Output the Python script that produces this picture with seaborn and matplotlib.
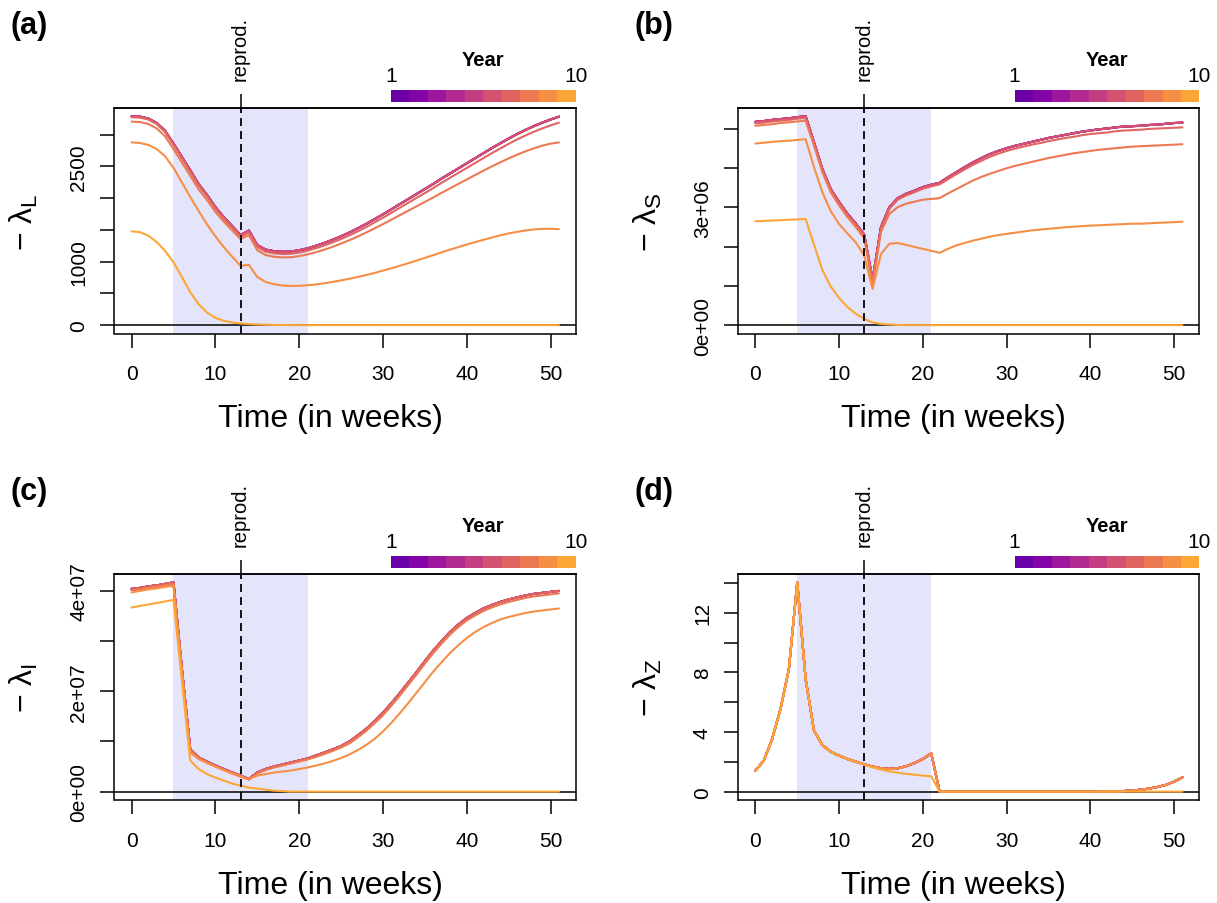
import numpy as np
import pandas as pd
import matplotlib
matplotlib.use("Agg")
import matplotlib.pyplot as plt
from matplotlib.colors import ListedColormap
import seaborn as sns

weeks = list(range(52))
years = list(range(1, 11))
repro_week = 13
season_start, season_end = 5, 21

# (a) -lambda_L ; years 1-6 lie on top of each other
lamL_y1to6 = [3290, 3285, 3255, 3185, 3060, 2860, 2650, 2440, 2220, 2050, 1860, 1700, 1560, 1420, 1490, 1260,
              1190, 1165, 1155, 1160, 1180, 1210, 1250, 1295, 1345, 1400, 1460, 1525, 1595, 1670, 1745, 1825,
              1905, 1985, 2065, 2145, 2225, 2310, 2390, 2470, 2550, 2630, 2710, 2790, 2865, 2940, 3010, 3075,
              3135, 3190, 3240, 3285]
lamL_y7 = [3275, 3270, 3240, 3170, 3043, 2843, 2632, 2422, 2200, 2030, 1838, 1678, 1536, 1393, 1462, 1230,
           1158, 1132, 1120, 1125, 1144, 1173, 1212, 1255, 1304, 1357, 1415, 1478, 1546, 1619, 1692, 1770,
           1848, 1926, 2004, 2082, 2160, 2243, 2321, 2399, 2477, 2555, 2633, 2711, 2784, 2857, 2925, 2988,
           3046, 3099, 3147, 3190]
lamL_y8 = [3207, 3200, 3170, 3100, 2975, 2775, 2565, 2355, 2140, 1970, 1785, 1630, 1492, 1356, 1420, 1180,
           1105, 1078, 1067, 1070, 1088, 1115, 1150, 1190, 1235, 1285, 1340, 1398, 1460, 1525, 1592, 1662,
           1732, 1802, 1872, 1942, 2012, 2085, 2155, 2225, 2295, 2365, 2435, 2502, 2565, 2628, 2685, 2738,
           2786, 2828, 2860, 2880]
lamL_y9 = [2880, 2870, 2840, 2775, 2660, 2480, 2250, 2020, 1800, 1590, 1400, 1230, 1080, 936, 950, 760,
           680, 645, 625, 618, 620, 628, 642, 660, 682, 705, 732, 760, 790, 822, 860, 895,
           935, 975, 1018, 1060, 1103, 1147, 1190, 1230, 1270, 1308, 1345, 1381, 1415, 1445, 1470, 1492,
           1508, 1517, 1518, 1512]
lamL_y10 = [1478, 1465, 1410, 1310, 1170, 990, 760, 520, 330, 200, 115, 68, 42, 27, 17, 10,
            6, 3, 2, 1, 0, 0, 0, 0, 0, 0, 0, 0, 0, 0, 0, 0,
            0, 0, 0, 0, 0, 0, 0, 0, 0, 0, 0, 0, 0, 0, 0, 0,
            0, 0, 0, 0]

# (b) -lambda_S, in millions
lamS_y1to6 = [5.17, 5.19, 5.22, 5.24, 5.26, 5.29, 5.31, 4.65, 3.97, 3.46, 3.13, 2.83, 2.58, 2.30, 1.15, 2.49,
              3.00, 3.23, 3.34, 3.42, 3.51, 3.57, 3.62, 3.76, 3.89, 4.02, 4.14, 4.25, 4.35, 4.43, 4.50, 4.56,
              4.61, 4.66, 4.71, 4.76, 4.80, 4.84, 4.88, 4.92, 4.95, 4.98, 5.00, 5.03, 5.05, 5.06, 5.07, 5.09,
              5.10, 5.12, 5.14, 5.15]
lamS_y7 = [5.13, 5.15, 5.18, 5.20, 5.22, 5.25, 5.27, 4.62, 3.94, 3.43, 3.10, 2.80, 2.55, 2.27, 1.12, 2.46,
           2.96, 3.19, 3.30, 3.38, 3.47, 3.53, 3.58, 3.71, 3.84, 3.96, 4.08, 4.18, 4.28, 4.36, 4.43, 4.49,
           4.54, 4.59, 4.63, 4.68, 4.72, 4.76, 4.79, 4.83, 4.86, 4.88, 4.90, 4.93, 4.95, 4.96, 4.97, 4.99,
           5.00, 5.01, 5.02, 5.03]
lamS_y8 = [5.07, 5.09, 5.11, 5.14, 5.16, 5.18, 5.20, 4.57, 3.89, 3.38, 3.04, 2.75, 2.49, 2.21, 1.03, 2.37,
           2.83, 3.00, 3.09, 3.14, 3.19, 3.21, 3.23, 3.35, 3.46, 3.57, 3.68, 3.77, 3.85, 3.92, 3.99, 4.05,
           4.10, 4.15, 4.20, 4.25, 4.29, 4.33, 4.37, 4.40, 4.43, 4.46, 4.48, 4.50, 4.52, 4.54, 4.55, 4.56,
           4.57, 4.58, 4.59, 4.60]
lamS_y9 = [4.62, 4.64, 4.66, 4.68, 4.69, 4.71, 4.73, 4.02, 3.38, 2.90, 2.57, 2.33, 2.10, 1.77, 0.92, 1.81,
           2.07, 2.09, 2.04, 1.99, 1.94, 1.89, 1.84, 1.94, 2.03, 2.09, 2.15, 2.20, 2.25, 2.29, 2.32, 2.35,
           2.38, 2.41, 2.43, 2.45, 2.47, 2.49, 2.50, 2.52, 2.53, 2.54, 2.55, 2.56, 2.57, 2.58, 2.58, 2.59,
           2.60, 2.61, 2.62, 2.63]
lamS_y10 = [2.64, 2.65, 2.66, 2.67, 2.68, 2.69, 2.70, 2.05, 1.40, 0.98, 0.69, 0.46, 0.29, 0.16, 0.07, 0.03,
            0.015, 0.005, 0, 0, 0, 0, 0, 0, 0, 0, 0, 0, 0, 0, 0, 0,
            0, 0, 0, 0, 0, 0, 0, 0, 0, 0, 0, 0, 0, 0, 0, 0,
            0, 0, 0, 0]

# (c) -lambda_I, in units of 1e7
lamI_y1to7 = [4.04, 4.06, 4.09, 4.11, 4.14, 4.17, 2.45, 0.84, 0.68, 0.60, 0.52, 0.45, 0.38, 0.32, 0.25, 0.38,
              0.45, 0.50, 0.54, 0.58, 0.62, 0.66, 0.72, 0.78, 0.84, 0.91, 1.00, 1.12, 1.25, 1.40, 1.57, 1.76,
              1.96, 2.17, 2.38, 2.60, 2.81, 3.00, 3.18, 3.33, 3.46, 3.56, 3.65, 3.72, 3.78, 3.83, 3.87, 3.91,
              3.94, 3.96, 3.98, 4.00]
lamI_y8 = [4.01, 4.03, 4.06, 4.08, 4.11, 4.14, 2.42, 0.82, 0.66, 0.58, 0.50, 0.43, 0.36, 0.30, 0.24, 0.36,
           0.43, 0.48, 0.52, 0.56, 0.60, 0.64, 0.69, 0.75, 0.81, 0.88, 0.96, 1.08, 1.21, 1.36, 1.52, 1.71,
           1.91, 2.12, 2.33, 2.55, 2.76, 2.95, 3.13, 3.28, 3.41, 3.51, 3.60, 3.67, 3.73, 3.78, 3.82, 3.86,
           3.89, 3.91, 3.93, 3.95]
lamI_y9 = [3.97, 4.00, 4.03, 4.05, 4.08, 4.10, 2.40, 0.78, 0.65, 0.57, 0.50, 0.43, 0.37, 0.30, 0.25, 0.32,
           0.35, 0.38, 0.40, 0.42, 0.45, 0.48, 0.52, 0.56, 0.61, 0.67, 0.74, 0.83, 0.93, 1.05, 1.20, 1.37,
           1.56, 1.76, 1.97, 2.18, 2.39, 2.58, 2.76, 2.92, 3.06, 3.18, 3.28, 3.36, 3.43, 3.48, 3.52, 3.56,
           3.59, 3.61, 3.63, 3.65]
lamI_y10 = [3.67, 3.70, 3.73, 3.76, 3.79, 3.82, 2.22, 0.62, 0.45, 0.35, 0.28, 0.22, 0.16, 0.12, 0.08, 0.06,
            0.04, 0.02, 0.01, 0, 0, 0, 0, 0, 0, 0, 0, 0, 0, 0, 0, 0,
            0, 0, 0, 0, 0, 0, 0, 0, 0, 0, 0, 0, 0, 0, 0, 0,
            0, 0, 0, 0]

# (d) -lambda_Z
lamZ_y1to9 = [1.41, 2.08, 3.53, 5.55, 8.23, 14.05, 7.56, 4.09, 3.13, 2.68, 2.42, 2.19, 2.01, 1.83, 1.68, 1.57,
              1.52, 1.57, 1.70, 1.92, 2.19, 2.57, 0, 0, 0, 0, 0, 0, 0, 0, 0, 0,
              0, 0, 0, 0, 0, 0, 0, 0, 0, 0.005, 0.01, 0.02, 0.04, 0.07, 0.13, 0.20,
              0.31, 0.45, 0.67, 0.96]
lamZ_y10 = [1.41, 2.08, 3.53, 5.55, 8.23, 14.05, 7.56, 4.09, 3.13, 2.68, 2.42, 2.19, 2.01, 1.82, 1.63, 1.48,
            1.36, 1.27, 1.19, 1.14, 1.07, 1.03, 0, 0, 0, 0, 0, 0, 0, 0, 0, 0,
            0, 0, 0, 0, 0, 0, 0, 0, 0, 0, 0, 0, 0, 0, 0, 0,
            0, 0, 0, 0]


def long_frame(series_by_year, scale=1.0):
    rows = []
    for yr in years:
        for w, v in zip(weeks, series_by_year[yr]):
            rows.append({"week": w, "value": v * scale, "year": yr})
    return pd.DataFrame(rows)


panels = [
    ("(a)", "− λ$_{\\mathrm{L}}$", long_frame({**{y: lamL_y1to6 for y in range(1, 7)},
                                           7: lamL_y7, 8: lamL_y8, 9: lamL_y9, 10: lamL_y10}),
     [0, 500, 1000, 1500, 2000, 2500, 3000], ["0", "", "1000", "", "", "2500", ""]),
    ("(b)", "− λ$_{\\mathrm{S}}$", long_frame({**{y: lamS_y1to6 for y in range(1, 7)},
                                           7: lamS_y7, 8: lamS_y8, 9: lamS_y9, 10: lamS_y10}, 1e6),
     [0, 1e6, 2e6, 3e6, 4e6, 5e6], ["0e+00", "", "", "3e+06", "", ""]),
    ("(c)", "− λ$_{\\mathrm{I}}$", long_frame({**{y: lamI_y1to7 for y in range(1, 8)},
                                           8: lamI_y8, 9: lamI_y9, 10: lamI_y10}, 1e7),
     [0, 1e7, 2e7, 3e7, 4e7], ["0e+00", "", "2e+07", "", "4e+07"]),
    ("(d)", "− λ$_{\\mathrm{Z}}$", long_frame({**{y: lamZ_y1to9 for y in range(1, 10)}, 10: lamZ_y10}),
     [0, 2, 4, 6, 8, 10, 12, 14], ["0", "", "4", "", "8", "", "12", ""]),
]

sns.set_style("ticks")
plt.rcParams["font.family"] = ["Liberation Sans", "DejaVu Sans"]
plt.rcParams["mathtext.fontset"] = "custom"
plt.rcParams["mathtext.rm"] = "Liberation Sans"
plt.rcParams["mathtext.it"] = "Liberation Sans:italic"
plt.rcParams["text.color"] = "black"
plt.rcParams["axes.labelcolor"] = "black"
plt.rcParams["xtick.color"] = "black"
plt.rcParams["ytick.color"] = "black"
plt.rcParams["axes.edgecolor"] = "black"

cmap = plt.get_cmap("plasma")
year_colors = [cmap(v) for v in np.linspace(0.2, 0.8, 10)]
palette = dict(zip(years, year_colors))

W, H = 1217, 904
fig = plt.figure(figsize=(W / 100, H / 100), dpi=100)

# axes boxes in pixels: left, top, right, bottom
boxes = [(114.5, 109, 576, 334.5), (738.3, 109, 1199.5, 334.5),
         (114.5, 575, 576, 801), (738.3, 575, 1199.5, 801)]

for (tag, ylab, df, yticks, ylabels), (l, t, r, b) in zip(panels, boxes):
    ax = fig.add_axes([l / W, 1 - b / H, (r - l) / W, (b - t) / H])
    ax.axvspan(season_start, season_end, color="#e4e4fb", lw=0, zorder=0)
    ax.axhline(0, color="black", lw=1.1, zorder=1)
    sns.lineplot(data=df, x="week", y="value", hue="year", palette=palette,
                 legend=False, estimator=None, lw=1.5, ax=ax, zorder=2)
    ax.axvline(repro_week, color="black", lw=1.3, ls=(0, (4.4, 2.8)), zorder=3)

    lo, hi = df["value"].min(), df["value"].max()
    pad = 0.04 * (hi - lo)
    ax.set_ylim(lo - pad, hi + pad)
    ax.set_xlim(-0.04 * 51, 51 * 1.04)

    ax.set_xticks([0, 10, 20, 30, 40, 50])
    ax.set_yticks(yticks)
    ax.set_yticklabels(ylabels)
    ax.tick_params(axis="both", direction="out", length=10, width=1.1, labelsize=15, colors="black")
    ax.tick_params(axis="x", pad=12)
    ax.tick_params(axis="y", pad=9)
    for lab in ax.get_yticklabels():
        lab.set_rotation(90)
        lab.set_va("center")
    for sp in ax.spines.values():
        sp.set_linewidth(1.1)
        sp.set_color("black")

    ax.set_xlabel("Time (in weeks)", fontsize=23, color="black")
    ax.set_ylabel(ylab, fontsize=23, color="black")
    ax.xaxis.set_label_coords((330 - 114.5) / 461.5, -(404 - 334.5) / 225.5)
    ax.yaxis.set_label_coords(-(114.5 - 40) / 461.5, 0.5)

    top = ax.secondary_xaxis("top")
    top.set_xticks([repro_week])
    top.set_xticklabels(["reprod."])
    top.tick_params(length=10, width=1.1, pad=10, labelsize=14.5, labelrotation=90, colors="black")
    top.spines["top"].set_linewidth(1.1)

    cax = ax.inset_axes([0.599, 1.028, 0.401, 0.053])
    sns.heatmap(np.array([years]), cmap=ListedColormap(year_colors), cbar=False, ax=cax,
                xticklabels=False, yticklabels=False)
    ax.text(0.599, 1.1197, "1", transform=ax.transAxes, ha="center", va="baseline", fontsize=15)
    ax.text(1.0, 1.1197, "10", transform=ax.transAxes, ha="center", va="baseline", fontsize=15)
    ax.text(0.7995, 1.1885, "Year", transform=ax.transAxes, ha="center", va="baseline",
            fontsize=14.5, fontweight="bold")

    fig.text((l - 103.5) / W, 1 - (t - 75) / H, tag, ha="left", va="baseline",
             fontsize=22, fontweight="bold")

fig.savefig("out.png", dpi=100)
